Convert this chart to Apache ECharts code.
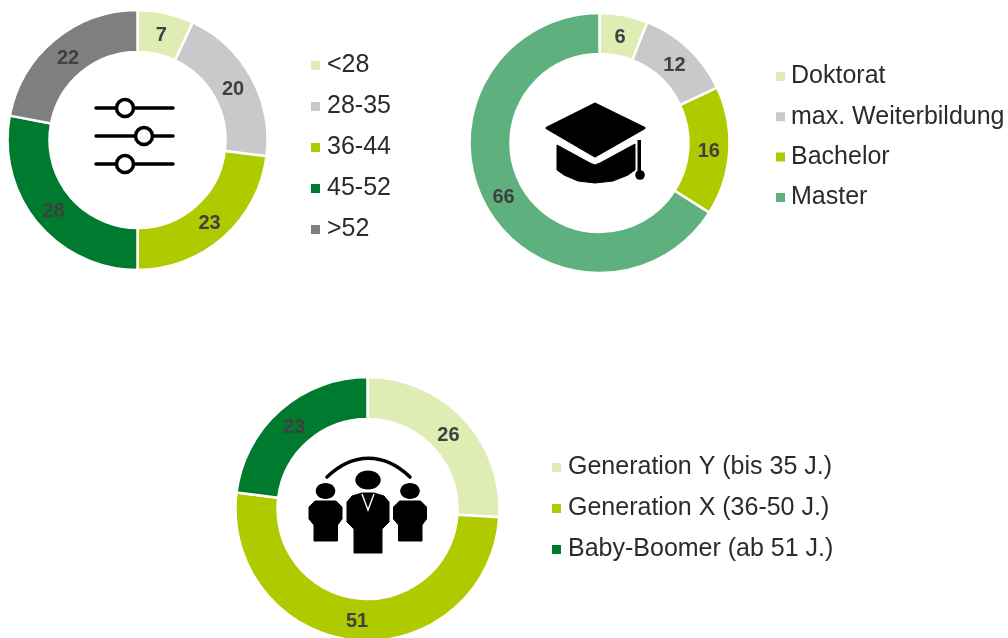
<!DOCTYPE html>
<html><head><meta charset="utf-8">
<style>html,body{margin:0;padding:0;background:#fff}#c{width:1008px;height:638px}</style>
<script src="https://cdn.jsdelivr.net/npm/echarts@6/dist/echarts.min.js"></script>
</head><body><div id="c"></div>
<script>
const ageNames=['<28','28-35','36-44','45-52','>52'];
const ageValues=[7,20,23,28,22];
const ageColors=['#DFECB3','#C9C9C9','#AFCB00','#007A2E','#7F7F7F'];
const eduNames=['Doktorat','max. Weiterbildung','Bachelor','Master'];
const eduValues=[6,12,16,66];
const eduColors=['#DFECB3','#C9C9C9','#AFCB00','#5FB07F'];
const genNames=['Generation Y (bis 35 J.)','Generation X (36-50 J.)','Baby-Boomer (ab 51 J.)'];
const genValues=[26,51,23];
const genColors=['#DFECB3','#AFCB00','#007A2E'];
const FONT='"Liberation Sans",Arial,sans-serif';
function pie(names,values,colors,center,radius){
  const total=values.reduce((a,b)=>a+b,0);
  return {type:'pie',center:center,radius:radius,startAngle:90,clockwise:true,silent:true,animation:false,
    minAngle:0,avoidLabelOverlap:false,
    itemStyle:{borderColor:'#fff',borderWidth:2.5},
    label:{show:true,position:'inside',formatter:'{c}',color:'#404040',fontFamily:FONT,fontWeight:'bold',fontSize:20},
    labelLine:{show:false},
    // nudge each label slightly toward the ring centre and down, as in the reference
    labelLayout:function(p){
      let before=0;for(let i=0;i<p.dataIndex;i++)before+=values[i];
      const a=(before+values[p.dataIndex]/2)/total*2*Math.PI;
      return {dx:-3*Math.sin(a),dy:3*Math.cos(a)+2};
    },
    data:names.map((n,i)=>({name:n,value:values[i],itemStyle:{color:colors[i]}}))};
}
function legend(names,left,top,gap,pad){
  return {data:names,left:left,top:top,orient:'vertical',icon:'rect',itemWidth:11,itemHeight:11,itemGap:gap,selectedMode:false,padding:0,
    textStyle:{fontFamily:FONT,fontSize:25,color:'#2b2b2b',lineHeight:24,padding:[0,0,0,pad]}};
}
const K='#000';
function line(x1,y1,x2,y2,w){return {type:'line',shape:{x1,y1,x2,y2},style:{stroke:K,lineWidth:w||3.5,lineCap:'round'},silent:true};}
function circ(cx,cy,r,fill,sw){return {type:'circle',shape:{cx,cy,r},style:{fill:fill,stroke:sw?K:null,lineWidth:sw||0},silent:true};}
function poly(points){return {type:'polygon',shape:{points},style:{fill:K,stroke:K,lineWidth:1,lineJoin:'round'},silent:true};}
function sideBody(d){return poly([[315,501],[336,501],[342,507],[342,519],[337.5,525],[337.5,541],[314,541],[314,525],[309,519],[309,507]].map(p=>[p[0]+d,p[1]]));}
const icons=[
  line(96,108,173,108),line(96,136,173,136),line(96,164,173,164),
  circ(125,108,8.5,'#fff',3.5),circ(144,136,8.5,'#fff',3.5),circ(125,164,8.5,'#fff',3.5),
  // mortarboard
  {type:'polygon',shape:{points:[[595,104],[644,128],[595,156],[547,128]]},style:{fill:K,stroke:K,lineWidth:3,lineJoin:'round'},silent:true},
  poly([[557,145],[590,163],[595,165],[600,163],[635,144],[635,170],[628,175],[613,181],[595,183],[578,181],[564,175],[557,170]]),
  {type:'rect',shape:{x:637.5,y:140,width:3.5,height:33},style:{fill:K},silent:true},
  circ(640,175,4.8,K),
  // people
  {type:'bezierCurve',shape:{x1:327,y1:477,cpx1:353,cpy1:452,cpx2:384,cpy2:452,x2:410,y2:477},style:{fill:null,stroke:K,lineWidth:3.5,lineCap:'round'},silent:true},
  {type:'ellipse',shape:{cx:368,cy:480,rx:12.7,ry:9.5},style:{fill:K},silent:true},
  poly([[352,496],[362,493],[374,493],[384,496],[389,502],[389,522],[382,529],[382,553],[354,553],[354,529],[347,522],[347,502]]),
  {type:'polyline',shape:{points:[[362,494],[368,510],[374,494]]},style:{fill:null,stroke:'#fff',lineWidth:1.4},silent:true},
  {type:'ellipse',shape:{cx:325.5,cy:491,rx:9.8,ry:8},style:{fill:K},silent:true},
  {type:'ellipse',shape:{cx:410,cy:491,rx:9.8,ry:8},style:{fill:K},silent:true},
  sideBody(0),sideBody(84.5)
];
const chart=echarts.init(document.getElementById('c'),null,{renderer:'canvas'});
chart.setOption({
  animation:false,backgroundColor:'#fff',
  legend:[legend(ageNames,309,53,16,1),legend(eduNames,774,64,15.3,0),legend(genNames,550,455,16,1)],
  graphic:{elements:icons},
  series:[
    pie(ageNames,ageValues,ageColors,[137.5,140],[88,130]),
    pie(eduNames,eduValues,eduColors,[599.5,143],[89,130]),
    pie(genNames,genValues,genColors,[367.5,509],[90,132])
  ]
});
</script></body></html>
